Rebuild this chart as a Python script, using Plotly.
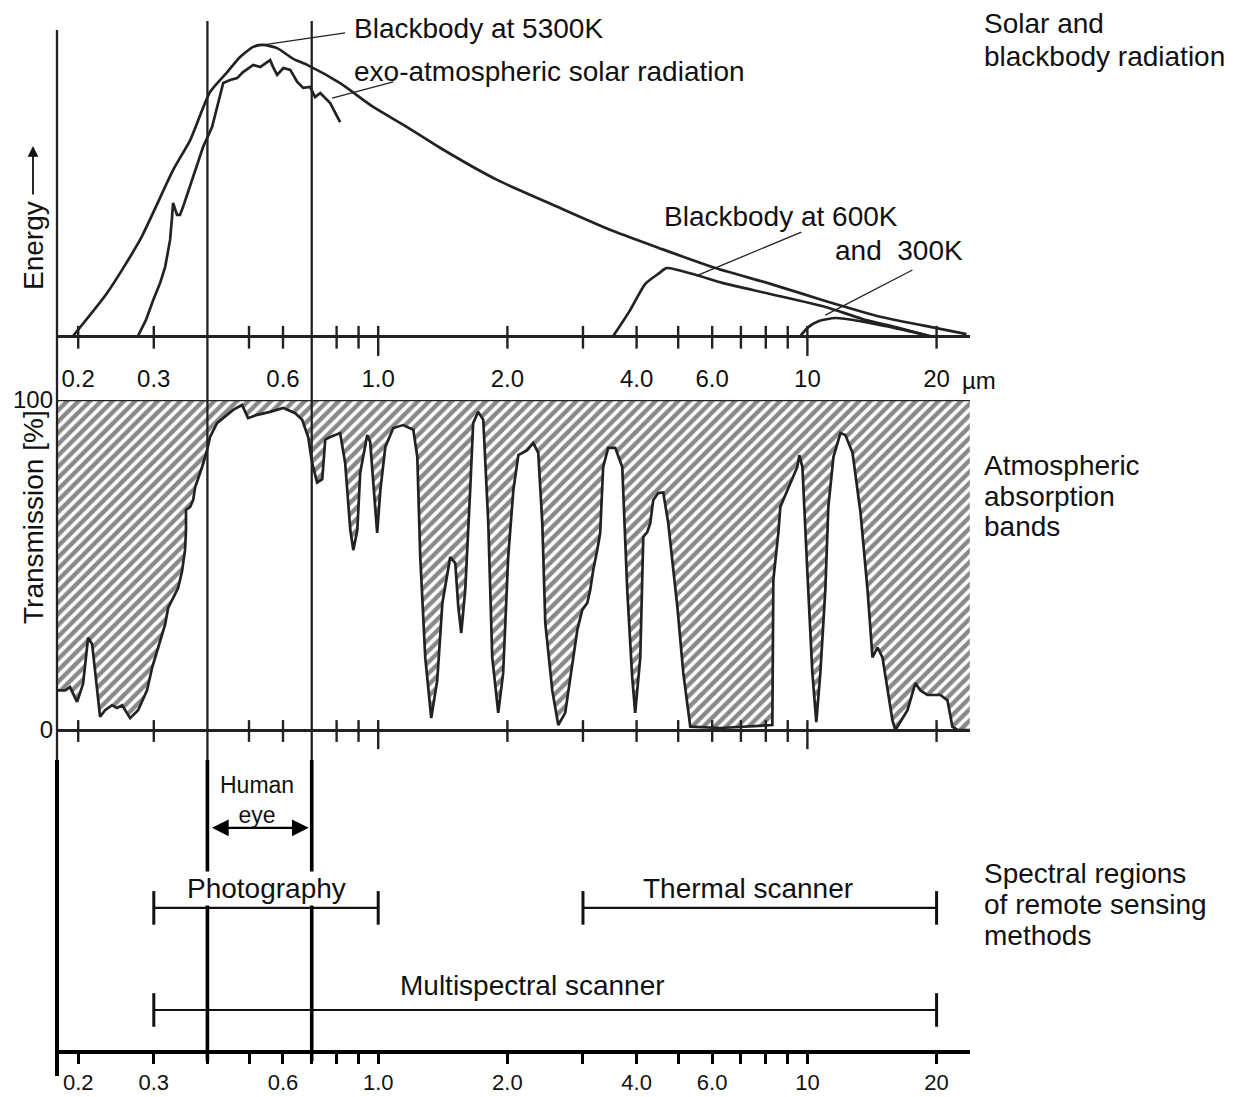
import numpy as np
import plotly.graph_objects as go

# ---------------- data (wavelength in micrometres) ----------------
# Blackbody at 5300 K (relative energy)
BB5300_WL = [0.1945, 0.2335, 0.2786, 0.3327, 0.3647, 0.4057, 0.4449, 0.4766, 0.5115, 0.5395,
             0.5815, 0.6339, 0.6831, 0.8152, 0.9733, 1.168, 1.396, 1.893, 2.655, 3.529,
             4.517, 6.103, 8.198, 11.01, 14.88, 19.99, 23.48]
BB5300_E = [0, 13.6, 30.4, 52.5, 62, 77.2, 83.5, 88.3, 91.5, 92.1,
            91.1, 87.7, 85.8, 80, 72.5, 66.1, 59.5, 49.4, 40.5, 33.2,
            27.8, 21.5, 16.5, 11.1, 6, 2.5, 0.6]

# Exo-atmospheric solar radiation
SOLAR_WL = [0.2756, 0.2877, 0.2991, 0.3104, 0.3188, 0.3274, 0.3309, 0.3327, 0.3399, 0.3453,
            0.3509, 0.3706, 0.3908, 0.4101, 0.4212, 0.4354, 0.4519, 0.4692, 0.4843, 0.5115,
            0.5309, 0.5512, 0.5600, 0.5691, 0.5815, 0.6011, 0.6238, 0.6477, 0.6686, 0.6939,
            0.7128, 0.7328, 0.7527, 0.7729, 0.8152]
SOLAR_E = [0, 5.1, 11.4, 16.8, 21.8, 30.4, 37.7, 42.1, 38.3, 38.3,
           40.8, 50.3, 59.8, 66.1, 72.5, 80.1, 81, 81.6, 83.5, 85.8,
           85.1, 86.7, 87.3, 85.1, 82.6, 84.8, 84.2, 80.4, 78.5, 78.8,
           75.6, 76.9, 75.3, 73.7, 67.7]

# Blackbody at 600 K
BB600_WL = [3.529, 3.865, 4.191, 4.517, 4.692, 5.509, 6.336, 8.198, 11.01, 13.44, 16.38, 18.84]
BB600_E = [0, 8.2, 16.5, 19.9, 21.5, 19.3, 16.8, 13.3, 9.2, 5.4, 2.5, 0.3]

# Blackbody at 300 K
BB300_WL = [9.632, 10.05, 10.61, 11.63, 13.30, 16.03, 19.36]
BB300_E = [0, 2.8, 4.7, 5.7, 4.7, 2.5, 0]

# Atmospheric transmission [%]
TRANS_WL = [0.1785, 0.1864, 0.1914, 0.1988, 0.2053, 0.2109, 0.2155, 0.2249, 0.2310, 0.2398,
            0.2463, 0.2532, 0.2642, 0.2758, 0.2893, 0.2975, 0.3072, 0.3138, 0.3188, 0.3240,
            0.3363, 0.3418, 0.3490, 0.3547, 0.3566, 0.3566, 0.3647, 0.3706, 0.3746, 0.3888,
            0.3993, 0.4057, 0.4212, 0.4449, 0.4592, 0.4817, 0.4975, 0.5226, 0.5600, 0.6011,
            0.6408, 0.6650, 0.6868, 0.7014, 0.7205, 0.7407, 0.7527, 0.7729, 0.8152, 0.8374,
            0.8610, 0.8750, 0.8940, 0.9081, 0.9429, 0.9578, 0.9786, 0.9945, 1.0116, 1.0391,
            1.0842, 1.1432, 1.2073, 1.2335, 1.253, 1.2871, 1.3291, 1.3726, 1.4111, 1.472,
            1.512, 1.5366, 1.5614, 1.5952, 1.638, 1.6645, 1.7099, 1.757, 1.8049, 1.8437,
            1.9041, 1.9552, 2.0085, 2.0649, 2.1212, 2.2251, 2.2976, 2.3602, 2.4118, 2.4509,
            2.5442, 2.6275, 2.7272, 2.803, 2.9104, 2.9889, 3.0702, 3.119, 3.1695, 3.2385,
            3.290, 3.3433, 3.4344, 3.5675, 3.7036, 3.8043, 3.9067, 3.9701, 4.080, 4.1461,
            4.2363, 4.304, 4.3737, 4.4929, 4.6146, 4.7403, 4.9776, 5.1389, 5.335, 6.268,
            8.2865, 8.3308, 8.5578, 8.649, 8.9803, 9.4735, 9.577, 9.736, 10.001, 10.27,
            10.49, 10.72, 11.01, 11.19, 11.50, 11.94, 12.26, 12.74, 13.30, 13.81,
            14.18, 14.57, 14.96, 15.37, 15.78, 16.03, 17.11, 17.85, 18.34, 19.04,
            20.42, 21.20, 21.77, 22.37, 23.9]
TRANS_T = [12, 12, 13, 8.5, 14, 28, 26, 4, 6, 7.5,
           6.7, 7.5, 3.6, 6, 12, 19, 25, 29, 32, 37,
           41.5, 43, 48, 54.5, 60.6, 66.7, 67.6, 69.7, 73.6, 79.7,
           84.8, 88.8, 93, 95.5, 97, 98.5, 94.5, 95.5, 96.4, 97.6,
           96, 94, 88.8, 81, 75, 76, 88, 88.8, 90, 81,
           60.6, 54.5, 60.6, 78, 89.4, 87.3, 72.7, 59.7, 72.7, 85.8,
           91.5, 92.4, 91, 82.7, 52.4, 22, 3.6, 15, 38.5, 52.4,
           50.6, 37.3, 29.4, 42.4, 72.7, 93, 96.4, 94, 62.7, 22,
           5.2, 17.3, 52.4, 72.7, 83.3, 84.8, 87, 84, 62.7, 32.4,
           12, 1.5, 5.2, 16, 30.3, 36.4, 38.5, 42.4, 48.5, 54.5,
           59.7, 79.7, 85.5, 85.5, 79.7, 42.4, 16, 5.2, 22, 58.5,
           60, 62.7, 69.7, 71.8, 72, 62.7, 37.3, 17.3, 1, 0.6,
           1.5, 45.5, 59.7, 67.6, 72.7, 79.7, 83.3, 79.7, 47.6, 17.3,
           2.4, 17.3, 42.4, 67.6, 82.7, 90, 89.4, 84, 65.8, 42.4,
           22, 25, 22, 12, 3, 0, 6, 14.2, 12, 10.6,
           10.6, 9, 1, 0, 0]

# Axis ticks
TICKS_ALL = [0.2, 0.3, 0.4, 0.5, 0.6, 0.7, 0.8, 0.9, 1.0, 2, 3, 4, 5, 6, 7, 8, 9, 10, 20]
LABEL_VALS = [0.2, 0.3, 0.6, 1.0, 2, 4, 6, 10, 20]
LABEL_TEXT = ['0.2', '0.3', '0.6', '1.0', '2.0', '4.0', '6.0', '10', '20']
TICKS_MINOR = [0.2, 0.3, 0.5, 0.6, 0.8, 0.9, 2, 3, 4, 5, 6, 7, 8, 9, 20]
TICKS_MAJOR = [1.0, 10]

# Human eye and remote sensing methods
EYE_RANGE = [0.4, 0.7]
METHODS = ['Photography', 'Thermal scanner', 'Multispectral scanner']
METHOD_START = [0.3, 3.0, 0.3]
METHOD_END = [1.0, 20.0, 20.0]

# ---------------- layout helpers ----------------
W, H = 1234, 1097
LINE = '#222222'
TXT = '#111111'
FONT = 'Liberation Sans, Arial, sans-serif'


def px(x):
    return x / W


def py(y):
    return 1 - y / H


XRANGE = [-0.7484, 1.3789]
XDOM = [px(57), px(970)]

fig = go.Figure()


def seg(vals, y0, y1):
    xs, ys = [], []
    for v in vals:
        xs += [v, v, None]
        ys += [y0, y1, None]
    return xs, ys


# ---- top panel: radiation curves ----
fig.add_trace(go.Scatter(x=BB5300_WL, y=BB5300_E, mode='lines', xaxis='x', yaxis='y',
                         line=dict(color=LINE, width=2.7, shape='spline', smoothing=0.6)))
fig.add_trace(go.Scatter(x=SOLAR_WL, y=SOLAR_E, mode='lines', xaxis='x', yaxis='y',
                         line=dict(color=LINE, width=2.7)))
fig.add_trace(go.Scatter(x=BB600_WL, y=BB600_E, mode='lines', xaxis='x', yaxis='y',
                         line=dict(color=LINE, width=2.7, shape='spline', smoothing=0.6)))
fig.add_trace(go.Scatter(x=BB300_WL, y=BB300_E, mode='lines', xaxis='x', yaxis='y',
                         line=dict(color=LINE, width=2.7, shape='spline', smoothing=0.6)))
tx, ty = seg(TICKS_MINOR, 3.2, -4.0)
fig.add_trace(go.Scatter(x=tx, y=ty, mode='lines', xaxis='x', yaxis='y', line=dict(color=LINE, width=2.4)))
tx, ty = seg(TICKS_MAJOR, 3.2, -6.3)
fig.add_trace(go.Scatter(x=tx, y=ty, mode='lines', xaxis='x', yaxis='y', line=dict(color=LINE, width=2.4)))

# leader lines
LEADERS = [([BB5300_WL[9], 0.8374], [BB5300_E[9], 95.9]),
           ([0.7812, 1.0842], [75.3, 80.4]),
           ([5.509, 9.684], [19.0, 32.9]),
           ([11.01, 17.57], [6.6, 20.9])]
for lx, ly in LEADERS:
    fig.add_trace(go.Scatter(x=lx, y=ly, mode='lines', xaxis='x', yaxis='y',
                             line=dict(color=LINE, width=1.3)))

# ---- middle panel: transmission ----
fill_x = TRANS_WL + [TRANS_WL[-1], TRANS_WL[0]]
fill_y = TRANS_T + [100, 100]
fig.add_trace(go.Scatter(x=fill_x, y=fill_y, mode='lines', fill='toself', xaxis='x2', yaxis='y2',
                         line=dict(width=0, color='rgba(0,0,0,0)'),
                         fillcolor='rgba(0,0,0,0)',
                         fillpattern=dict(shape='/', size=8, solidity=0.55, fgcolor='#111111',
                                          bgcolor='white')))
fig.add_trace(go.Scatter(x=TRANS_WL, y=TRANS_T, mode='lines', xaxis='x2', yaxis='y2',
                         line=dict(color=LINE, width=2.7)))
tx, ty = seg(TICKS_MINOR, 3.0, -3.6)
fig.add_trace(go.Scatter(x=tx, y=ty, mode='lines', xaxis='x2', yaxis='y2', line=dict(color=LINE, width=2.4)))
tx, ty = seg(TICKS_MAJOR, 3.0, -5.8)
fig.add_trace(go.Scatter(x=tx, y=ty, mode='lines', xaxis='x2', yaxis='y2', line=dict(color=LINE, width=2.4)))

# ---- bottom panel: spectral regions of methods ----
METHOD_ROW = [4.9, 4.9, 1.38]
for name, s, e, r in zip(METHODS, METHOD_START, METHOD_END, METHOD_ROW):
    fig.add_trace(go.Scatter(x=[s, e], y=[r, r], mode='lines+markers', xaxis='x3', yaxis='y3',
                             line=dict(color=TXT, width=2.2),
                             marker=dict(symbol='line-ns', size=24, line=dict(color=TXT, width=3))))

# ---- shapes: vertical reference lines ----
shapes = []
for v in EYE_RANGE:
    shapes.append(dict(type='line', xref='x3', yref='paper', x0=v, x1=v, y0=py(21), y1=py(760),
                       line=dict(color=LINE, width=2.3), layer='above'))
    shapes.append(dict(type='line', xref='x3', yref='paper', x0=v, x1=v, y0=py(760), y1=py(1061),
                       line=dict(color='#000', width=3.6), layer='above'))
shapes.append(dict(type='line', xref='x3 domain', yref='paper', x0=0, x1=0, y0=py(30), y1=py(760),
                   line=dict(color=LINE, width=2.3), layer='above'))
shapes.append(dict(type='line', xref='x3 domain', yref='paper', x0=0, x1=0, y0=py(760), y1=py(1076),
                   line=dict(color='#000', width=4), layer='above'))
shapes.append(dict(type='line', xref='x2 domain', yref='y2', x0=0, x1=1, y0=100, y1=100,
                   line=dict(color=LINE, width=2.7), layer='above'))

# ---- annotations ----
ann = []


def label(text, x, y, size=28, xanchor='left', angle=0, bg=None):
    d = dict(text=text, xref='paper', yref='paper', x=px(x), y=py(y), xanchor=xanchor,
             yanchor='middle', showarrow=False, textangle=angle,
             font=dict(family=FONT, size=size, color=TXT))
    if bg:
        d['bgcolor'] = bg
        d['borderpad'] = 1
    ann.append(d)


label('Blackbody at 5300K', 352, 28)
label('exo-atmospheric solar radiation', 352, 72)
label('Blackbody at 600K', 662, 217)
label('and  300K', 833, 251)
label('Solar and', 982, 24)
label('blackbody radiation', 982, 57)
label('Atmospheric', 982, 465)
label('absorption', 982, 496)
label('bands', 982, 526)
label('Spectral regions', 982, 873)
label('of remote sensing', 982, 904)
label('methods', 982, 935)
label('µm', 960, 380, size=24)
label('Energy', 33, 246, xanchor='center', angle=-90)
label('Transmission [%]', 33, 517, xanchor='center', angle=-90)
label('Human<br>eye', 257, 800, size=23, xanchor='center')
label(METHODS[0], 266, 888, xanchor='center', bg='white')
label(METHODS[1], 748, 888, xanchor='center')
label(METHODS[2], 532, 985, xanchor='center')

# energy arrow
ann.append(dict(text='', xref='paper', yref='paper', x=px(33), y=py(146), ax=0, ay=50,
                showarrow=True, arrowhead=2, arrowsize=1.2, arrowwidth=1.8, arrowcolor=TXT))
# human eye double arrow
EYE_ROW = 7.66
ann.append(dict(text='', xref='x3', yref='y3', x=np.log10(EYE_RANGE[1]), y=EYE_ROW,
                axref='x3', ayref='y3', ax=np.log10(EYE_RANGE[0]), ay=EYE_ROW,
                showarrow=True, arrowside='end+start', arrowhead=2, arrowsize=1.4,
                arrowwidth=2.4, arrowcolor='#000', standoff=3, startstandoff=3))

tickfont = dict(family=FONT, size=24, color=TXT)
common_x = dict(type='log', range=XRANGE, domain=XDOM, showgrid=False, zeroline=False,
                fixedrange=True, automargin=False)

fig.update_layout(
    width=W, height=H, margin=dict(l=0, r=0, t=0, b=0, pad=0), autosize=False,
    paper_bgcolor='white', plot_bgcolor='white', showlegend=False, hovermode=False,
    font=dict(family=FONT, color=TXT),
    xaxis=dict(**common_x, anchor='y', tickmode='array', tickvals=LABEL_VALS, ticktext=LABEL_TEXT,
               ticks='', showline=False, tickfont=tickfont, ticklabelstandoff=2),
    xaxis2=dict(**common_x, anchor='y2', showticklabels=False, ticks='', showline=False),
    xaxis3=dict(**common_x, anchor='y3', tickmode='array', tickvals=TICKS_ALL,
                ticktext=[LABEL_TEXT[LABEL_VALS.index(v)] if v in LABEL_VALS else '' for v in TICKS_ALL],
                ticks='outside', ticklen=10, tickwidth=2.5, tickcolor='#000', showline=True,
                linewidth=3.5, linecolor='#000', tickfont=dict(family=FONT, size=22, color=TXT),
                ticklabelstandoff=0),
    yaxis=dict(domain=[py(360), py(20)], range=[-7.595, 100], anchor='x', showgrid=False,
               showticklabels=False, ticks='', zeroline=True, zerolinecolor=LINE, zerolinewidth=2.7,
               showline=False, fixedrange=True, automargin=False),
    yaxis2=dict(domain=[py(760), py(400)], range=[-9.09, 100], anchor='x2', showgrid=False,
                zeroline=True, zerolinecolor=LINE, zerolinewidth=2.7, tickmode='array',
                tickvals=[0, 100], ticktext=['0', '100'], ticks='', tickfont=tickfont,
                showline=False, ticklabelstandoff=3, fixedrange=True, automargin=False),
    yaxis3=dict(domain=[py(1050), py(760)], range=[0, 10], anchor='x3', visible=False,
                fixedrange=True, automargin=False),
    shapes=shapes, annotations=ann,
)

fig.write_html('out.html')
